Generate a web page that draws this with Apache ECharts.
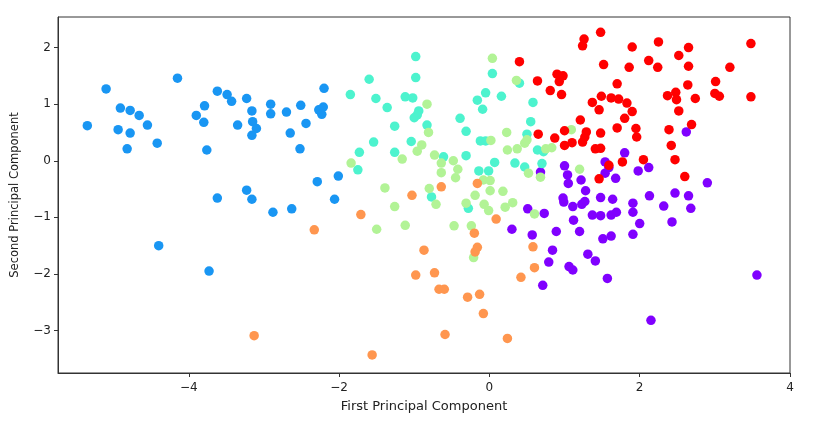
<!DOCTYPE html>
<html><head><meta charset="utf-8">
<script src="https://cdn.jsdelivr.net/npm/echarts@6/dist/echarts.min.js"></script>
<style>html,body{margin:0;padding:0;background:#fff}#c{width:828px;height:421px}</style>
</head><body><div id="c"></div>
<script>
const xTicks = [-4, -2, 0, 2, 4];
const yTicks = [-3, -2, -1, 0, 1, 2];
const xTitle = 'First Principal Component';
const yTitle = 'Second Principal Component';

const cluster0 = [[1.80,0.14],[1.54,-0.02],[1.59,-0.12],[1.54,-0.22],[1.68,-0.31],[1.00,-0.09],[1.04,-0.25],[1.05,-0.40],[1.22,-0.34],[1.28,-0.53],[0.68,-0.20],[0.98,-0.66],[0.99,-0.73],[1.27,-0.72],[1.23,-0.77],[1.11,-0.81],[1.48,-0.65],[1.64,-0.68],[0.51,-0.85],[0.73,-0.93],[1.37,-0.96],[1.48,-0.97],[1.62,-0.96],[1.69,-0.91],[1.91,-0.91],[1.91,-0.75],[1.12,-1.05],[0.30,-1.21],[0.57,-1.31],[0.89,-1.25],[1.20,-1.25],[1.51,-1.38],[1.62,-1.33],[1.91,-1.30],[0.84,-1.58],[1.31,-1.65],[1.41,-1.77],[0.79,-1.79],[1.06,-1.87],[1.11,-1.93],[1.57,-2.08],[0.71,-2.20],[2.62,0.51],[1.98,-0.18],[2.12,-0.12],[2.90,-0.39],[2.47,-0.57],[2.65,-0.62],[2.13,-0.62],[2.32,-0.80],[2.68,-0.84],[2.00,-1.11],[2.43,-1.08],[3.56,-2.02],[2.15,-2.82]];
const cluster1 = [[-5.35,0.62],[-5.10,1.27],[-4.91,0.93],[-4.78,0.89],[-4.66,0.80],[-4.55,0.63],[-4.94,0.55],[-4.78,0.49],[-4.82,0.21],[-4.42,0.31],[-4.15,1.46],[-3.90,0.80],[-3.79,0.97],[-3.80,0.68],[-3.76,0.19],[-3.62,1.23],[-3.49,1.17],[-3.43,1.05],[-3.23,1.10],[-3.16,0.88],[-3.15,0.69],[-3.35,0.63],[-3.16,0.45],[-3.10,0.57],[-3.23,-0.52],[-3.62,-0.66],[-3.16,-0.68],[-4.40,-1.50],[-3.73,-1.95],[-2.91,1.00],[-2.91,0.83],[-2.70,0.86],[-2.51,0.98],[-2.44,0.66],[-2.65,0.49],[-2.52,0.21],[-2.20,1.28],[-2.27,0.90],[-2.21,0.95],[-2.23,0.82],[-2.29,-0.37],[-2.01,-0.27],[-2.06,-0.68],[-2.88,-0.91],[-2.63,-0.85]];
const cluster2 = [[-0.98,1.84],[-0.98,1.47],[-1.60,1.44],[-1.85,1.17],[-1.51,1.10],[-1.36,0.94],[-1.12,1.13],[-1.02,1.11],[-0.94,0.88],[-0.96,0.81],[-1.00,0.76],[-1.26,0.61],[-0.83,0.63],[-1.54,0.33],[-1.04,0.34],[-1.73,0.15],[-1.26,0.15],[-1.75,-0.16],[-0.61,0.07],[-0.77,-0.64],[0.04,1.54],[0.40,1.37],[-0.05,1.20],[0.16,1.14],[-0.16,1.07],[-0.09,0.91],[0.58,1.03],[-0.39,0.75],[0.55,0.69],[-0.31,0.52],[-0.12,0.35],[-0.05,0.35],[0.50,0.47],[-0.31,0.09],[0.64,0.19],[0.72,0.16],[0.07,-0.03],[0.34,-0.04],[0.47,-0.11],[-0.14,-0.18],[-0.01,-0.18],[0.70,-0.05],[-0.28,-0.84]];
const cluster3 = [[-0.83,1.00],[-0.81,0.50],[-0.90,0.28],[-0.96,0.17],[-1.16,0.03],[-1.84,-0.04],[-0.73,0.10],[-0.64,-0.04],[-0.64,-0.21],[-1.39,-0.48],[-0.80,-0.49],[-0.71,-0.77],[-1.26,-0.81],[-1.50,-1.21],[-1.12,-1.14],[-0.47,-1.15],[0.04,1.81],[0.36,1.42],[0.23,0.50],[0.02,0.36],[0.24,0.19],[0.37,0.21],[0.47,0.31],[0.50,0.37],[0.75,0.21],[0.83,0.23],[1.09,0.55],[-0.48,0.00],[-0.42,-0.15],[-0.45,-0.30],[0.52,-0.22],[0.68,-0.29],[1.20,-0.15],[-0.08,-0.34],[0.01,-0.35],[0.01,-0.53],[0.18,-0.54],[-0.19,-0.61],[-0.31,-0.75],[-0.07,-0.77],[-0.01,-0.88],[0.21,-0.82],[0.31,-0.74],[0.60,-0.94],[-0.24,-1.15],[-0.21,-1.71]];
const cluster4 = [[-3.13,-3.09],[-0.64,-0.46],[-1.03,-0.61],[-2.33,-1.22],[-1.71,-0.95],[-0.87,-1.58],[-0.98,-2.02],[-0.73,-1.98],[-0.67,-2.27],[-0.60,-2.27],[-0.59,-3.07],[-1.56,-3.43],[-0.16,-0.40],[0.09,-1.03],[-0.20,-1.28],[-0.16,-1.53],[-0.19,-1.61],[0.58,-1.52],[0.60,-1.89],[0.42,-2.06],[-0.29,-2.41],[-0.13,-2.36],[-0.08,-2.70],[0.24,-3.14]];
const cluster5 = [[1.48,2.27],[1.26,2.15],[1.24,2.03],[1.90,2.01],[0.40,1.75],[1.52,1.70],[1.86,1.65],[0.90,1.53],[0.98,1.50],[0.93,1.40],[0.64,1.41],[0.81,1.24],[0.96,1.17],[1.70,1.36],[1.49,1.14],[1.37,1.03],[1.62,1.11],[1.72,1.09],[1.83,1.02],[1.46,0.90],[1.90,0.87],[1.80,0.75],[1.21,0.72],[1.70,0.58],[1.00,0.53],[0.65,0.47],[1.29,0.51],[1.27,0.42],[1.24,0.33],[1.48,0.49],[0.87,0.40],[1.00,0.27],[1.10,0.32],[1.41,0.21],[1.48,0.22],[1.77,-0.02],[1.59,-0.08],[1.46,-0.32],[2.25,2.10],[2.65,2.00],[3.48,2.07],[2.52,1.86],[2.12,1.77],[2.24,1.65],[2.65,1.67],[3.20,1.65],[2.64,1.34],[3.01,1.40],[3.00,1.19],[3.06,1.14],[3.48,1.13],[2.37,1.15],[2.48,1.21],[2.49,1.08],[2.74,1.10],[2.52,0.88],[2.69,0.64],[2.39,0.55],[1.95,0.57],[1.96,0.42],[2.42,0.27],[2.47,0.02],[2.05,0.02],[2.60,-0.28]];

const clusters = [cluster0, cluster1, cluster2, cluster3, cluster4, cluster5];
const colors = ['#8000ff', '#1996f3', '#4df3ce', '#b2f396', '#ff964f', '#ff0000'];

const fmt = v => String(v).replace('-', '\u2212');
const font = 'DejaVu Sans';
const axisCommon = {
  axisLine: { show: true, onZero: false, lineStyle: { color: '#333', width: 1 } },
  axisTick: { show: true, inside: false, length: 4, lineStyle: { color: '#333' } },
  splitLine: { show: false }
};

const chart = echarts.init(document.getElementById('c'), null, { renderer: 'canvas' });
chart.setOption({
  backgroundColor: '#fff',
  animation: false,
  grid: { left: 58, right: 38, top: 17, bottom: 48, show: true, borderColor: '#333', borderWidth: 1 },
  xAxis: Object.assign({}, axisCommon, {
    type: 'value', min: -5.74, max: 4.0,
    name: xTitle, nameLocation: 'middle', nameGap: 27,
    nameTextStyle: { fontFamily: font, fontSize: 13, color: '#222' },
    axisTick: Object.assign({}, axisCommon.axisTick, { customValues: xTicks }),
    axisLabel: { customValues: xTicks, formatter: fmt, fontFamily: font, fontSize: 12, color: '#222', margin: 9 }
  }),
  yAxis: Object.assign({}, axisCommon, {
    type: 'value', min: -3.75, max: 2.54,
    name: yTitle, nameLocation: 'middle', nameGap: 37, nameRotate: 90,
    nameTextStyle: { fontFamily: font, fontSize: 11.5, color: '#222' },
    axisTick: Object.assign({}, axisCommon.axisTick, { customValues: yTicks }),
    axisLabel: { customValues: yTicks, formatter: fmt, fontFamily: font, fontSize: 12, color: '#222', margin: 7 }
  }),
  series: clusters.map((d, i) => ({
    type: 'scatter', data: d, symbol: 'circle', symbolSize: 9.5,
    itemStyle: { color: colors[i], opacity: 1 }
  }))
});
</script></body></html>
